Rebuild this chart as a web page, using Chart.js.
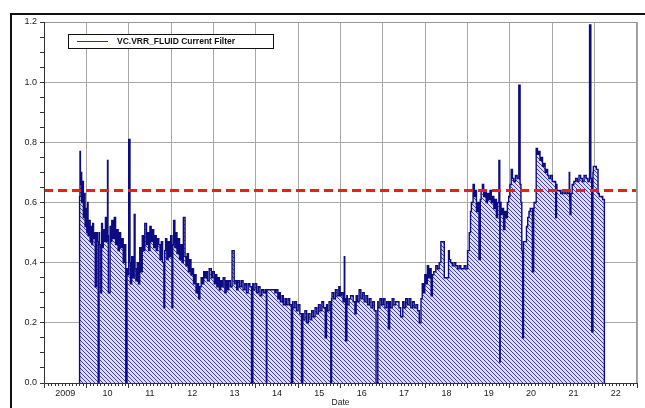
<!DOCTYPE html>
<html>
<head>
<meta charset="utf-8">
<script src="https://cdn.jsdelivr.net/npm/chart.js@4/dist/chart.umd.min.js"></script>
<style>
body{margin:0;background:#fff;}
#frame{position:absolute;left:10px;top:13px;width:640px;height:400px;border-top:2px solid #111;border-left:2px solid #111;}
#wrap{position:absolute;left:0;top:0;width:645px;height:408px;}
</style>
</head>
<body>
<div id="frame"></div>
<div id="wrap"><canvas id="canvas" width="645" height="408"></canvas></div>
<script>
// data: decimal year -> value
let years = [
2009.84,2009.85,2009.86,2009.87,2009.89,2009.91,2009.93,2009.95,2009.97,2009.99,
2010.01,2010.03,2010.04,2010.06,2010.09,2010.11,2010.13,2010.15,2010.17,2010.19,
2010.21,2010.24,2010.26,2010.28,2010.30,2010.31,2010.34,2010.36,2010.38,2010.40,
2010.42,2010.45,2010.48,2010.50,2010.51,2010.52,2010.56,2010.57,2010.60,2010.63,
2010.66,2010.69,2010.72,2010.75,2010.78,2010.81,2010.84,2010.87,2010.90,2010.93,
2010.96,2010.97,2011.00,2011.03,2011.04,2011.07,2011.10,2011.13,2011.15,2011.17,
2011.20,2011.23,2011.26,2011.29,2011.32,2011.35,2011.38,2011.42,2011.44,2011.47,
2011.50,2011.53,2011.56,2011.59,2011.62,2011.65,2011.68,2011.71,2011.74,2011.77,
2011.80,2011.83,2011.85,2011.87,2011.90,2011.93,2011.96,2011.99,2012.02,2012.04,
2012.06,2012.09,2012.11,2012.14,2012.17,2012.20,2012.23,2012.26,2012.29,2012.33,
2012.35,2012.38,2012.41,2012.44,2012.47,2012.50,2012.53,2012.56,2012.59,2012.62,
2012.65,2012.68,2012.71,2012.74,2012.77,2012.80,2012.83,2012.86,2012.90,2012.95,
2012.98,2013.02,2013.05,2013.08,2013.11,2013.14,2013.17,2013.20,2013.23,2013.27,
2013.30,2013.33,2013.36,2013.40,2013.44,2013.49,2013.51,2013.55,2013.58,2013.62,
2013.66,2013.70,2013.74,2013.78,2013.82,2013.86,2013.90,2013.93,2013.94,2013.98,
2014.02,2014.06,2014.10,2014.14,2014.18,2014.22,2014.25,2014.26,2014.45,2014.48,
2014.52,2014.55,2014.58,2014.62,2014.65,2014.69,2014.72,2014.76,2014.80,2014.84,
2014.87,2014.88,2014.92,2014.96,2015.00,2015.04,2015.08,2015.11,2015.12,2015.16,
2015.20,2015.24,2015.28,2015.32,2015.36,2015.40,2015.44,2015.48,2015.52,2015.56,
2015.60,2015.64,2015.67,2015.69,2015.73,2015.77,2015.79,2015.80,2015.84,2015.88,
2015.92,2015.96,2015.99,2016.02,2016.06,2016.09,2016.10,2016.12,2016.15,2016.16,
2016.20,2016.24,2016.30,2016.34,2016.37,2016.40,2016.44,2016.48,2016.52,2016.56,
2016.60,2016.64,2016.68,2016.72,2016.76,2016.80,2016.84,2016.88,2016.89,2016.93,
2016.97,2017.01,2017.05,2017.09,2017.13,2017.16,2017.18,2017.22,2017.26,2017.30,
2017.38,2017.42,2017.47,2017.50,2017.54,2017.58,2017.62,2017.66,2017.70,2017.74,
2017.78,2017.82,2017.86,2017.90,2017.93,2017.96,2017.99,2018.02,2018.05,2018.08,
2018.11,2018.14,2018.17,2018.20,2018.25,2018.29,2018.33,2018.37,2018.40,2018.45,
2018.47,2018.55,2018.57,2018.60,2018.64,2018.68,2018.72,2018.76,2018.80,2018.84,
2018.88,2018.92,2018.96,2019.00,2019.04,2019.07,2019.09,2019.13,2019.16,2019.18,
2019.21,2019.24,2019.27,2019.30,2019.32,2019.35,2019.38,2019.41,2019.44,2019.47,
2019.50,2019.53,2019.56,2019.59,2019.62,2019.65,2019.68,2019.71,2019.74,2019.76,
2019.77,2019.79,2019.82,2019.85,2019.88,2019.91,2019.94,2019.97,2020.00,2020.03,
2020.06,2020.09,2020.13,2020.17,2020.21,2020.24,2020.26,2020.28,2020.30,2020.32,
2020.33,2020.39,2020.42,2020.45,2020.48,2020.53,2020.56,2020.57,2020.62,2020.65,
2020.68,2020.71,2020.74,2020.77,2020.80,2020.83,2020.86,2020.89,2020.92,2020.96,
2021.00,2021.04,2021.08,2021.10,2021.11,2021.16,2021.20,2021.24,2021.28,2021.32,
2021.36,2021.40,2021.41,2021.42,2021.44,2021.47,2021.51,2021.55,2021.59,2021.63,
2021.67,2021.71,2021.75,2021.80,2021.84,2021.88,2021.91,2021.93,2021.96,2021.97,
2022.01,2022.04,2022.08,2022.11,2022.15,2022.19,2022.23,2022.25
];
let values = [
0,0.62,0.77,0.66,0.70,0.60,0.67,0.55,0.63,0.52,
0.58,0.50,0.60,0.49,0.54,0.47,0.52,0.46,0.53,0.48,
0.50,0.32,0.50,0.47,0.00,0.50,0.46,0.30,0.53,0.45,
0.51,0.47,0.55,0.47,0.74,0.49,0.30,0.52,0.47,0.54,
0.48,0.55,0.46,0.51,0.44,0.50,0.45,0.48,0.40,0.46,
0.00,0.38,0.36,0.81,0.40,0.33,0.42,0.35,0.56,0.38,
0.34,0.40,0.33,0.45,0.37,0.49,0.44,0.53,0.46,0.50,
0.44,0.52,0.47,0.51,0.45,0.49,0.44,0.48,0.46,0.41,
0.47,0.40,0.25,0.44,0.48,0.41,0.47,0.42,0.49,0.25,
0.46,0.54,0.45,0.50,0.43,0.48,0.41,0.46,0.40,0.55,
0.42,0.39,0.43,0.37,0.41,0.36,0.38,0.33,0.36,0.30,
0.33,0.28,0.32,0.35,0.33,0.37,0.35,0.37,0.34,0.38,
0.35,0.37,0.33,0.36,0.32,0.35,0.31,0.34,0.32,0.35,
0.30,0.34,0.31,0.34,0.32,0.44,0.33,0.34,0.31,0.34,
0.32,0.34,0.31,0.33,0.30,0.33,0.32,0.00,0.33,0.31,
0.33,0.30,0.32,0.29,0.31,0.30,0.31,0.00,0.31,0.30,
0.31,0.28,0.30,0.27,0.29,0.26,0.28,0.26,0.28,0.26,
0.00,0.27,0.25,0.27,0.24,0.26,0.23,0.00,0.23,0.21,
0.24,0.20,0.23,0.21,0.24,0.22,0.25,0.23,0.26,0.24,
0.27,0.25,0.15,0.26,0.24,0.27,0.00,0.28,0.30,0.28,
0.31,0.29,0.32,0.29,0.30,0.27,0.42,0.28,0.14,0.29,
0.26,0.28,0.29,0.27,0.23,0.29,0.27,0.31,0.28,0.30,
0.27,0.29,0.26,0.28,0.25,0.27,0.24,0.00,0.27,0.25,
0.28,0.26,0.28,0.25,0.27,0.18,0.27,0.25,0.28,0.26,
0.27,0.25,0.22,0.27,0.25,0.28,0.26,0.28,0.25,0.27,
0.25,0.26,0.24,0.20,0.28,0.33,0.30,0.36,0.33,0.39,
0.35,0.38,0.29,0.36,0.37,0.39,0.38,0.40,0.47,0.47,
0.35,0.35,0.44,0.41,0.40,0.39,0.40,0.39,0.38,0.39,
0.38,0.38,0.39,0.38,0.44,0.50,0.57,0.60,0.66,0.62,
0.64,0.57,0.60,0.41,0.61,0.64,0.66,0.62,0.64,0.60,
0.63,0.61,0.64,0.60,0.62,0.58,0.61,0.55,0.60,0.74,
0.07,0.60,0.56,0.58,0.51,0.57,0.55,0.60,0.62,0.66,
0.71,0.68,0.67,0.69,0.68,0.99,0.66,0.60,0.44,0.15,
0.47,0.47,0.52,0.55,0.57,0.58,0.37,0.58,0.60,0.78,
0.76,0.77,0.74,0.75,0.72,0.73,0.70,0.71,0.69,0.68,
0.69,0.67,0.67,0.55,0.66,0.64,0.64,0.63,0.64,0.63,
0.64,0.63,0.70,0.60,0.56,0.63,0.66,0.67,0.68,0.67,
0.69,0.68,0.67,0.69,0.68,0.67,1.19,0.68,0.17,0.70,
0.72,0.72,0.71,0.63,0.62,0.62,0.61,0.00
];
let seriesLabel = 'VC.VRR_FLUID Current Filter';
let threshold = 0.64;
let xMin = 2009, xMax = 2023;
let yMin = 0, yMax = 1.2;

const font = "'Liberation Sans', Arial, sans-serif";

function hatch(){
    const c = document.createElement('canvas');
    c.width = 4; c.height = 4;
    const g = c.getContext('2d');
    g.fillStyle = '#dedef2';
    g.fillRect(0,0,4,4);
    g.fillStyle = '#4040a2';
    for(let i=0;i<4;i++){ g.fillRect(i,i,1,1); }
    return g.createPattern(c,'repeat');
}

function isMajorY(v){ return Math.abs(v/0.2 - Math.round(v/0.2)) < 1e-6; }

const frame = {
    id: 'frame',
    afterDraw(chart){
        const ctx = chart.ctx, a = chart.chartArea, x = chart.scales.x;
        ctx.save();
        ctx.strokeStyle = '#9a9a9a';
        ctx.lineWidth = 1;
        ctx.strokeRect(a.left+0.5, a.top+0.5, a.right-a.left-1, a.bottom-a.top);
        ctx.strokeStyle = '#333';
        ctx.beginPath();
        ctx.moveTo(a.left+0.5, a.top); ctx.lineTo(a.left+0.5, a.bottom+0.5);
        ctx.lineTo(a.right, a.bottom+0.5);
        // monthly minor ticks
        for(let yr=xMin; yr<xMax; yr++){
            for(let m=1;m<12;m++){
                const px = Math.round(x.getPixelForValue(yr+m/12))+0.5;
                ctx.moveTo(px, a.bottom); ctx.lineTo(px, a.bottom+3);
            }
        }
        ctx.stroke();
        // legend box
        const lx = a.left+24, ly = a.top+12;
        ctx.fillStyle = '#fff';
        ctx.fillRect(lx, ly, 205, 14);
        ctx.strokeStyle = '#111';
        ctx.strokeRect(lx+0.5, ly+0.5, 205, 14);
        ctx.strokeStyle = '#3030a0';
        ctx.beginPath(); ctx.moveTo(lx+9, ly+7.5); ctx.lineTo(lx+40, ly+7.5); ctx.stroke();
        ctx.fillStyle = '#111';
        ctx.font = 'bold 8.5px ' + font;
        ctx.textBaseline = 'middle';
        ctx.fillText(chart.data.datasets[0].label, lx+49, ly+8);
        ctx.restore();
    }
};

const ctx = document.getElementById('canvas');
new Chart(ctx, {
    type: 'line',
    data: {
        datasets: [{
            label: seriesLabel,
            data: years.map((t,i) => ({x: t, y: values[i]})),
            borderColor: '#0c0c80',
            borderWidth: 1.4,
            backgroundColor: hatch(),
            fill: 'origin',
            stepped: 'after',
            pointRadius: 0,
            order: 1
        },{
            label: 'limit',
            data: [{x: xMin, y: threshold},{x: xMax, y: threshold}],
            borderColor: '#e8201c',
            borderWidth: 3,
            borderDash: [9,5],
            fill: false,
            pointRadius: 0,
            order: 0
        }]
    },
    options: {
        responsive: false,
        animation: false,
        layout: { padding: {top: 22, left: 10, right: 8, bottom: 0} },
        plugins: { legend: {display: false}, tooltip: {enabled: false} },
        scales: {
            x: {
                type: 'linear', min: xMin, max: xMax,
                afterFit: (s) => { s.height = 25; },
                border: {display: false},
                grid: {
                    color: (c) => (Number.isInteger(c.tick.value) && c.tick.value > xMin) ? '#a8a8a8' : 'rgba(0,0,0,0)',
                    tickColor: (c) => Number.isInteger(c.tick.value) ? '#333' : 'rgba(0,0,0,0)',
                    tickLength: 5
                },
                ticks: {
                    stepSize: 0.5, autoSkip: false, maxRotation: 0, padding: 0,
                    color: '#222', font: {family: font, size: 9},
                    callback: (v) => (v % 1 === 0.5) ? (Math.floor(v) === 2009 ? '2009' : String(Math.floor(v)).slice(2)) : ''
                },
                title: { display: true, text: 'Date', color: '#222', font: {family: font, size: 8.5}, padding: {top: 0, bottom: 0} }
            },
            y: {
                min: yMin, max: yMax,
                afterFit: (s) => { s.width = 34; },
                border: {display: false},
                grid: {
                    color: (c) => (isMajorY(c.tick.value) && c.tick.value > yMin && c.tick.value < yMax) ? '#a8a8a8' : 'rgba(0,0,0,0)',
                    tickColor: '#333',
                    tickLength: 4
                },
                ticks: {
                    stepSize: 0.05, autoSkip: false, maxTicksLimit: 40, padding: 3,
                    color: '#222', font: {family: font, size: 9},
                    callback: (v) => isMajorY(v) ? v.toFixed(1) : ''
                }
            }
        }
    },
    plugins: [frame]
});
</script>
</body>
</html>
